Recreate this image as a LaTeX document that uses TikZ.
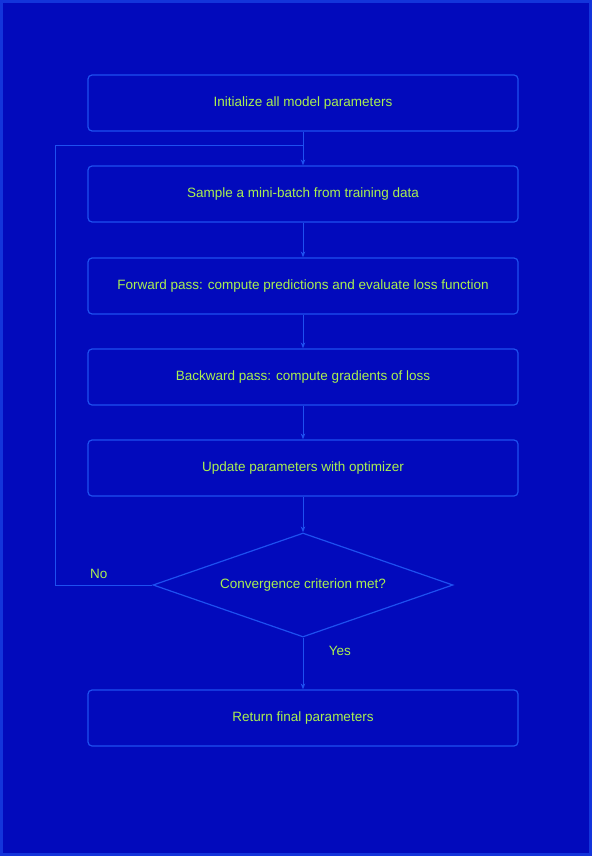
\documentclass[tikz,border=0pt]{standalone}
\usepackage{fontspec}
\setmainfont{Liberation Sans}
\usetikzlibrary{shapes.geometric,arrows.meta}
\definecolor{bgblue}{RGB}{2,10,188}
\definecolor{lineblue}{RGB}{30,80,240}
\definecolor{txt}{RGB}{170,240,80}
\tikzset{
  stepbox/.style={draw=lineblue, line width=1.2pt, rounded corners=4pt, minimum width=430pt, minimum height=56pt, text=txt, font=\fontsize{13.5}{15}\selectfont},
  decbox/.style={draw=lineblue, line width=1.2pt, diamond, aspect=2.9, minimum width=300pt, minimum height=104pt, inner sep=0pt, text=txt, font=\fontsize{13.5}{15}\selectfont},
  conn/.style={draw=lineblue, line width=1pt, -{Stealth[length=6pt]}},
  lbl/.style={text=txt, font=\fontsize{13.5}{15}\selectfont}
}
\begin{document}
\begin{tikzpicture}[x=1pt,y=-1pt]
\fill[bgblue] (0,0) rectangle (592,856);
\draw[lineblue!60!bgblue, line width=3pt] (1.5,1.5) rectangle (590.5,854.5);
\useasboundingbox (0,0) rectangle (592,856);
\node[stepbox] (s1) at (303,103) {Initialize all model parameters};
\node[stepbox] (s2) at (303,194) {Sample a mini-batch from training data};
\node[stepbox] (s3) at (303,286) {Forward pass: compute predictions and evaluate loss function};
\node[stepbox] (s4) at (303,377) {Backward pass: compute gradients of loss};
\node[stepbox] (s5) at (303,468) {Update parameters with optimizer};
\node[decbox] (d) at (303,585) {Convergence criterion met?};
\node[stepbox] (s6) at (303,718) {Return final parameters};
\coordinate (m) at (303,145);
\coordinate (l1) at (55,585);
\coordinate (l2) at (55,145);
\draw[conn] (s1) -- (s2);
\draw[conn] (s2) -- (s3);
\draw[conn] (s3) -- (s4);
\draw[conn] (s4) -- (s5);
\draw[conn] (s5) -- (d);
\draw[conn] (d) -- node[lbl, right=22pt, pos=0.25] {Yes} (s6);
\draw[draw=lineblue, line width=1pt] (d.west) -- node[lbl, above=3pt, pos=0.55] {No} (l1) -- (l2) -- (m);
\end{tikzpicture}
\end{document}
